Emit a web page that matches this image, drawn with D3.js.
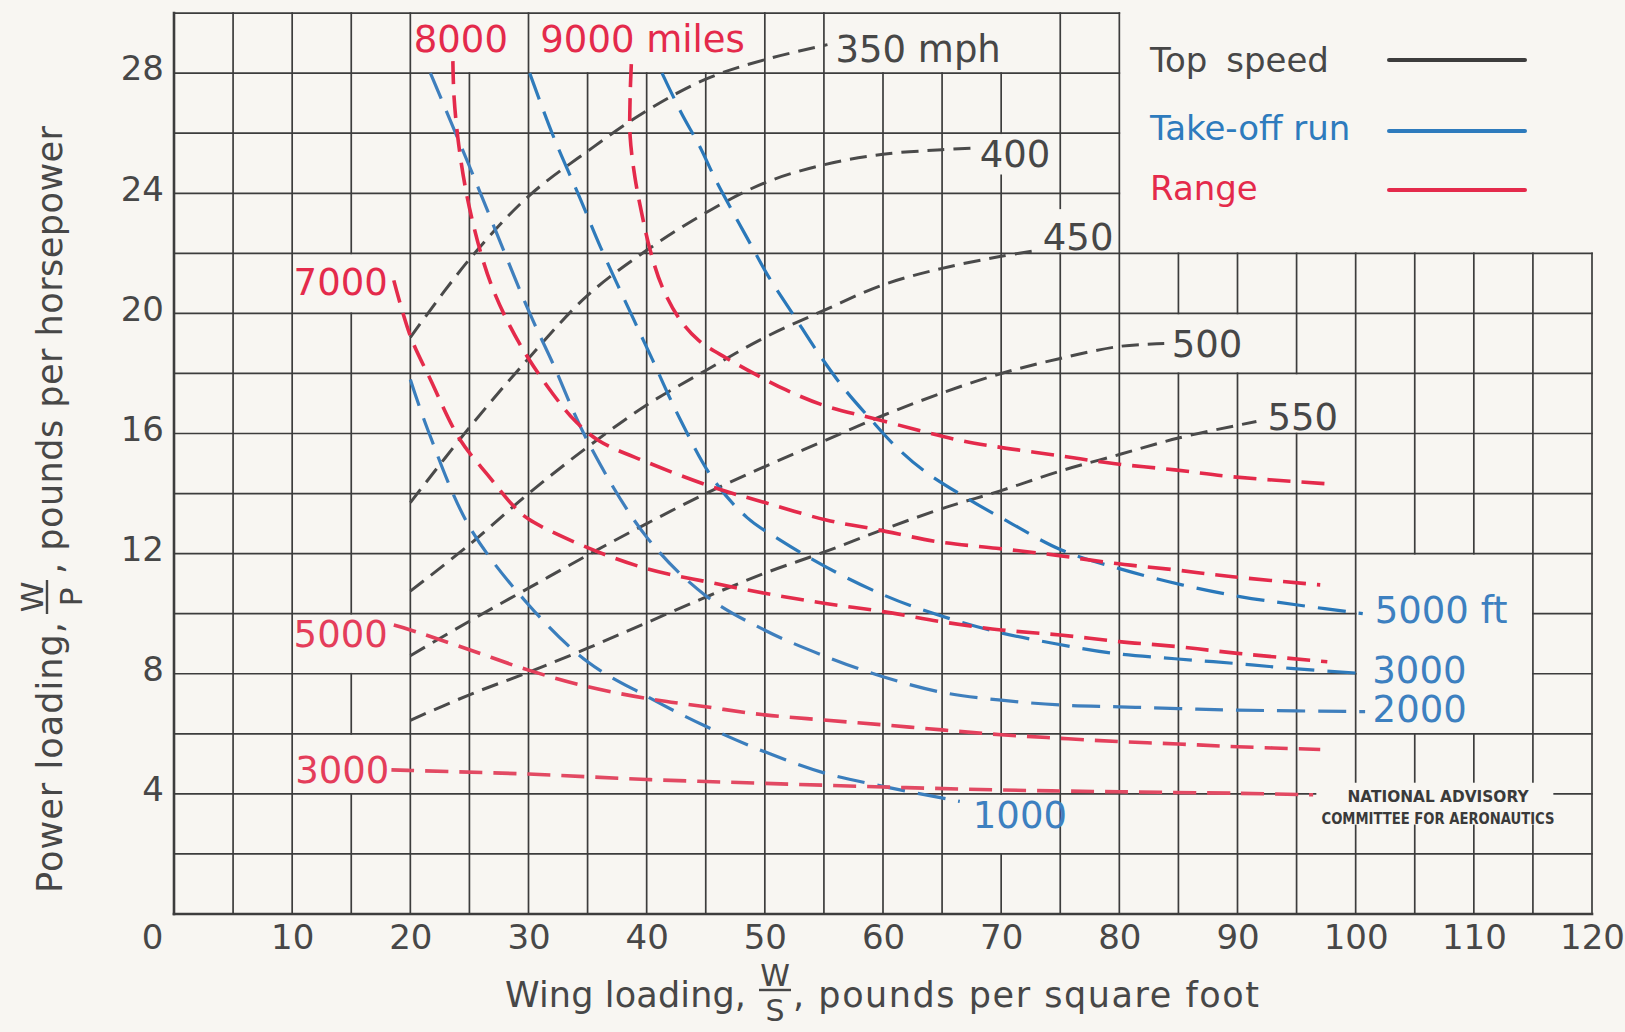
<!DOCTYPE html>
<html><head><meta charset="utf-8">
<script src="https://cdn.jsdelivr.net/npm/d3@7"></script>
<style>
html,body{margin:0;padding:0;background:#f8f6f2;}
svg{display:block;}
text{font-family:"DejaVu Sans",sans-serif;}
</style></head><body>
<svg id="chart" width="1625" height="1032"></svg>
<script>
// ---------------- data ----------------
const xTickValues = [0,10,20,30,40,50,60,70,80,90,100,110,120];
const yTickValues = [4,8,12,16,20,24,28];

const speedLabels = ["350 mph","400","450","500","550"];
const speed350 = [[20,19.2],[25,21.8],[30,23.9],[35,25.4],[40,26.75],[45,27.8],[50,28.45],[55.3,28.95]];
const speed400 = [[20,13.7],[25,16.2],[30,18.5],[35,20.6],[40,22.1],[45,23.35],[50,24.35],[55,24.95],[60,25.3],[65,25.45],[67.5,25.5]];
const speed450 = [[20,10.75],[25,12.3],[30,14.0],[35,15.55],[40,16.95],[45,18.1],[50,19.2],[55,20.1],[60,20.95],[65,21.5],[70,21.9],[73.1,22.1]];
const speed500 = [[20,8.6],[25,9.75],[30,10.85],[35,11.95],[40,13.0],[45,14.0],[50,14.9],[55,15.75],[60,16.6],[65,17.35],[70,18.0],[75,18.5],[80,18.9],[83.8,19.0]];
const speed550 = [[20,6.45],[25,7.3],[30,8.05],[35,8.85],[40,9.7],[45,10.55],[50,11.35],[55,12.05],[60,12.8],[65,13.5],[70,14.1],[75,14.75],[80,15.3],[85,15.85],[91.6,16.4]];

const takeoffLabels = ["1000","2000","3000","5000 ft"];
const takeoff1000 = [[20,17.8],[21.5,16.1],[25,12.9],[30,10.3],[35,8.4],[40,7.25],[45,6.25],[50,5.4],[55,4.7],[60,4.25],[66.5,3.75]];
const takeoff2000 = [[21.7,28.0],[25,24.9],[30,20.1],[32.1,18.3],[35,15.75],[40,12.55],[45,10.6],[50,9.45],[55,8.6],[60,7.9],[65,7.38],[70,7.12],[75,6.96],[80,6.9],[85,6.84],[90,6.79],[100.8,6.74]];
const takeoff3000 = [[30.1,28.0],[32.1,25.9],[34.4,23.8],[36.1,22.2],[38.9,19.8],[40.5,18.45],[42.8,16.5],[45.6,14.5],[48.5,13.2],[51.3,12.45],[55.2,11.55],[59.6,10.7],[63.4,10.12],[69.6,9.4],[74.6,9.0],[79.5,8.68],[84.7,8.5],[89.6,8.35],[94.5,8.18],[100.9,8.0]];
const takeoff5000 = [[41.3,28.0],[42.9,26.7],[44.5,25.55],[45.9,24.4],[47.4,23.3],[48.8,22.3],[50.2,21.3],[52.5,19.9],[54.4,18.75],[56.7,17.5],[58.9,16.5],[61,15.6],[63.5,14.75],[67.3,13.8],[70.2,13.15],[75.1,12.12],[80,11.5],[85.3,10.96],[90.2,10.57],[95.1,10.29],[100.6,10.0]];

const rangeLabels = ["3000","5000","7000","8000","9000 miles"];
const range3000 = [[18.4,4.8],[20,4.78],[30,4.66],[40,4.48],[50,4.35],[60,4.23],[70,4.13],[80,4.07],[90,4.02],[96.4,3.97]];
const range5000 = [[18.6,9.62],[20,9.46],[25,8.8],[30,8.12],[35,7.57],[40,7.18],[45,6.9],[50,6.63],[55,6.46],[60,6.3],[65,6.13],[70,5.97],[75,5.85],[80,5.74],[85,5.66],[90,5.57],[97,5.48]];
const range7000 = [[18.6,21.1],[20,19.25],[21.7,17.8],[24.2,15.8],[26.7,14.55],[28.7,13.6],[30,13.15],[35,12.2],[40,11.5],[45,11.07],[50,10.68],[55,10.35],[60,10.07],[65,9.73],[70,9.46],[75,9.29],[80,9.07],[85,8.9],[90,8.68],[97.6,8.4]];
const range8000 = [[23.6,28.4],[23.7,27.2],[24.1,25.6],[24.8,23.9],[25.9,22.1],[27.0,20.8],[28.4,19.6],[30,18.5],[32.1,17.3],[34,16.4],[36,15.75],[40,15.05],[45.7,14.2],[50.2,13.68],[55.2,13.12],[59.5,12.8],[64.6,12.4],[69.6,12.18],[74.6,11.95],[79.5,11.68],[84.7,11.46],[89.6,11.23],[97,10.96]];
const range9000 = [[38.7,28.3],[38.6,27.2],[38.6,25.9],[39.0,24.55],[39.6,23.3],[40.3,22.1],[41.3,20.9],[42.8,19.8],[44.4,19.1],[46.8,18.5],[49.3,17.95],[51.8,17.45],[54.9,16.95],[59.7,16.45],[66.2,15.8],[69.6,15.56],[74.6,15.28],[79.5,15.0],[84.7,14.79],[89.6,14.56],[97.4,14.33]];

const legendNames = ["Top speed","Take-off run","Range"];
const creditLines = ["NATIONAL ADVISORY","COMMITTEE FOR AERONAUTICS"];

// ---------------- layout ----------------
const W = 1625, H = 1032;
const BG = "#f8f6f2";
const INK = "#474747", BLUE = "#2e7bbd", RED = "#e42a4b";
const x = d3.scaleLinear().domain([0,120]).range([174,1592]);
const y = d3.scaleLinear().domain([0,30]).range([914,13.1]);

const svg = d3.select("#chart");
svg.append("rect").attr("width",W).attr("height",H).attr("fill",BG);

// grid with clearings where the lettering sits
const gridCuts = [
  [21,29,28,30],[31,49,28,30],[56,74,28,30],[67,73,24.6,26],[73,79,22,23.5],
  [81,92,18,20],[92,99,16,18],[100,115,6,12],[67,73,2,4],[96.6,116.8,2.95,4.4],
  [12,18,20,22],[12,18,8,10],[12,18,4,6]
];
function subtract(a0,a1,cuts){
  let segs=[[a0,a1]];
  cuts.forEach(([c0,c1])=>{
    const out=[];
    segs.forEach(([s0,s1])=>{
      if(c1<=s0||c0>=s1){out.push([s0,s1]);return;}
      if(c0>s0) out.push([s0,c0]);
      if(c1<s1) out.push([c1,s1]);
    });
    segs=out;
  });
  return segs;
}
const gridSegs=[];
d3.range(0,121,5).forEach(u=>{
  const ext = u<=80?[0,30]:[0,22];
  const cuts = gridCuts.filter(c=>c[0]<u&&u<c[1]).map(c=>[c[2],c[3]]);
  subtract(ext[0],ext[1],cuts).forEach(s=>gridSegs.push({x1:x(u),x2:x(u),y1:y(s[0]),y2:y(s[1]),w:u===0?2.6:1.7}));
});
d3.range(0,31,2).forEach(v=>{
  const ext = v<=22?[0,120]:[0,80];
  const cuts = gridCuts.filter(c=>c[2]<v&&v<c[3]).map(c=>[c[0],c[1]]);
  subtract(ext[0],ext[1],cuts).forEach(s=>gridSegs.push({x1:x(s[0]),x2:x(s[1]),y1:y(v),y2:y(v),w:v===0?2.6:1.7}));
});
svg.append("g").selectAll("line").data(gridSegs).join("line")
  .attr("x1",d=>d.x1).attr("x2",d=>d.x2).attr("y1",d=>d.y1).attr("y2",d=>d.y2)
  .attr("stroke","#3d3d3d").attr("stroke-width",d=>d.w).attr("stroke-linecap","square");

// axes (tick labels only)
const yAxis = svg.append("g").attr("transform",`translate(${x(0)},0)`)
  .call(d3.axisLeft(y).tickValues(yTickValues).tickSize(0).tickPadding(10).tickFormat(d3.format("d")));
const xAxis = svg.append("g").attr("transform",`translate(0,${y(0)})`)
  .call(d3.axisBottom(x).tickValues(xTickValues).tickSize(0).tickPadding(11).tickFormat(d3.format("d")));
[yAxis,xAxis].forEach(a=>{
  a.select(".domain").remove();
  a.attr("font-family",null).attr("font-size",null);
  a.selectAll("text").attr("font-size",34).attr("fill",INK).attr("font-family","DejaVu Sans");
});
yAxis.selectAll("text").attr("dy","0.2em");
xAxis.selectAll("text").attr("dx",d=>d===0?-22:0);

// curves
const line = d3.line().x(d=>x(d[0])).y(d=>y(d[1])).curve(d3.curveCatmullRom.alpha(0.5));
const series = [
  {pts:speed350,c:"#4a4a4a",dash:"17,9",w:3,lab:speedLabels[0],pos:"end",dx:8,dy:17,anchor:"start",fc:INK},
  {pts:speed400,c:"#4a4a4a",dash:"17,9",w:3,lab:speedLabels[1],pos:"end",dx:8,dy:19,anchor:"start",fc:INK},
  {pts:speed450,c:"#4a4a4a",dash:"17,9",w:3,lab:speedLabels[2],pos:"end",dx:5,dy:0,anchor:"start",fc:INK},
  {pts:speed500,c:"#4a4a4a",dash:"17,9",w:3,lab:speedLabels[3],pos:"end",dx:7.5,dy:13.6,anchor:"start",fc:INK},
  {pts:speed550,c:"#4a4a4a",dash:"17,9",w:3,lab:speedLabels[4],pos:"end",dx:11,dy:8.5,anchor:"start",fc:INK},
  {pts:takeoff1000,c:"#3a7ebd",dash:"28,13",w:3.2,lab:takeoffLabels[0],pos:"end",dx:13,dy:26.6,anchor:"start",fc:"#3d80c0"},
  {pts:takeoff2000,c:"#3f7fbd",dash:"28,13",w:3.2,lab:takeoffLabels[1],pos:"end",dx:7.5,dy:10.5,anchor:"start",fc:"#3d80c0"},
  {pts:takeoff3000,c:"#2f7bbb",dash:"28,13",w:3.2,lab:takeoffLabels[2],pos:"end",dx:6,dy:9,anchor:"start",fc:"#3d80c0"},
  {pts:takeoff5000,c:"#2a78ba",dash:"28,13",w:3.2,lab:takeoffLabels[3],pos:"end",dx:12,dy:9,anchor:"start",fc:"#3d80c0"},
  {pts:range3000,c:"#e24a63",dash:"23,11",w:3.6,lab:rangeLabels[0],pos:"start",dx:-2,dy:13,anchor:"end",fc:"#e43d5a"},
  {pts:range5000,c:"#e4405c",dash:"23,11",w:3.6,lab:rangeLabels[1],pos:"start",dx:-6,dy:22,anchor:"end",fc:"#e43d5a"},
  {pts:range7000,c:"#e42c4b",dash:"23,11",w:3.6,lab:rangeLabels[2],pos:"start",dx:-6,dy:14.6,anchor:"end",fc:RED},
  {pts:range8000,c:"#e42a4b",dash:"23,11",w:3.6,lab:rangeLabels[3],pos:"start",dx:8,dy:-9,anchor:"middle",fc:RED},
  {pts:range9000,c:"#e42a4b",dash:"23,11",w:3.6,lab:rangeLabels[4],pos:"start",dx:-91,dy:-12,anchor:"start",fc:RED}
];
svg.append("g").selectAll("path").data(series).join("path")
  .attr("d",d=>line(d.pts)).attr("fill","none").attr("stroke",d=>d.c)
  .attr("stroke-width",d=>d.w).attr("stroke-dasharray",d=>d.dash).attr("stroke-linecap","butt");

svg.append("g").selectAll("text").data(series).join("text")
  .attr("x",d=>{const p=d.pos==="end"?d.pts[d.pts.length-1]:d.pts[0];return x(p[0])+d.dx;})
  .attr("y",d=>{const p=d.pos==="end"?d.pts[d.pts.length-1]:d.pts[0];return y(p[1])+d.dy;})
  .attr("text-anchor",d=>d.anchor).attr("font-size",37).attr("fill",d=>d.fc)
  .text(d=>d.lab);

// legend
const legColors=[INK,BLUE,RED];
const legY=[72,140,200], legLineY=[60,131,190];
const leg=svg.append("g");
legendNames.forEach((n,i)=>{
  leg.append("text").attr("x",1150).attr("y",legY[i]).attr("font-size",34).attr("fill",legColors[i])
    .attr("word-spacing",i===0?8:0).text(n);
  leg.append("line").attr("x1",1389).attr("x2",1525).attr("y1",legLineY[i]).attr("y2",legLineY[i])
    .attr("stroke",i===0?"#3d3d3d":legColors[i]).attr("stroke-width",4).attr("stroke-linecap","round");
});

// credit
creditLines.forEach((t,i)=>{
  svg.append("text").attr("x",1438).attr("y",[802,824][i]).attr("text-anchor","middle")
    .attr("font-size",16).attr("font-weight","bold").attr("fill","#3a3a3a")
    .attr("textLength",[181,233][i]).attr("lengthAdjust","spacingAndGlyphs").text(t);
});

// x title with stacked fraction
const xt=svg.append("g").attr("fill",INK);
xt.append("text").attr("x",505).attr("y",1007).attr("font-size",35).attr("textLength",241).attr("lengthAdjust","spacing").text("Wing loading,");
xt.append("text").attr("x",775).attr("y",986).attr("text-anchor","middle").attr("font-size",30).text("W");
xt.append("line").attr("x1",759).attr("x2",791).attr("y1",990).attr("y2",990).attr("stroke",INK).attr("stroke-width",2.4);
xt.append("text").attr("x",775).attr("y",1021).attr("text-anchor","middle").attr("font-size",30).text("S");
xt.append("text").attr("x",793).attr("y",1007).attr("font-size",35).attr("textLength",466).attr("lengthAdjust","spacing").text(", pounds per square foot");
// y title (rotated) with stacked fraction
const yt=svg.append("g").attr("fill",INK).attr("transform","rotate(-90)");
yt.append("text").attr("x",-893).attr("y",62).attr("font-size",35).attr("textLength",271).attr("lengthAdjust","spacing").text("Power loading,");
yt.append("text").attr("x",-597).attr("y",43).attr("text-anchor","middle").attr("font-size",31).text("W");
yt.append("line").attr("x1",-614).attr("x2",-580).attr("y1",47).attr("y2",47).attr("stroke",INK).attr("stroke-width",2.4);
yt.append("text").attr("x",-597).attr("y",82).attr("text-anchor","middle").attr("font-size",31).text("P");
yt.append("text").attr("x",-574).attr("y",62).attr("font-size",35).attr("textLength",448).attr("lengthAdjust","spacing").text(", pounds per horsepower");
</script>
</body></html>
